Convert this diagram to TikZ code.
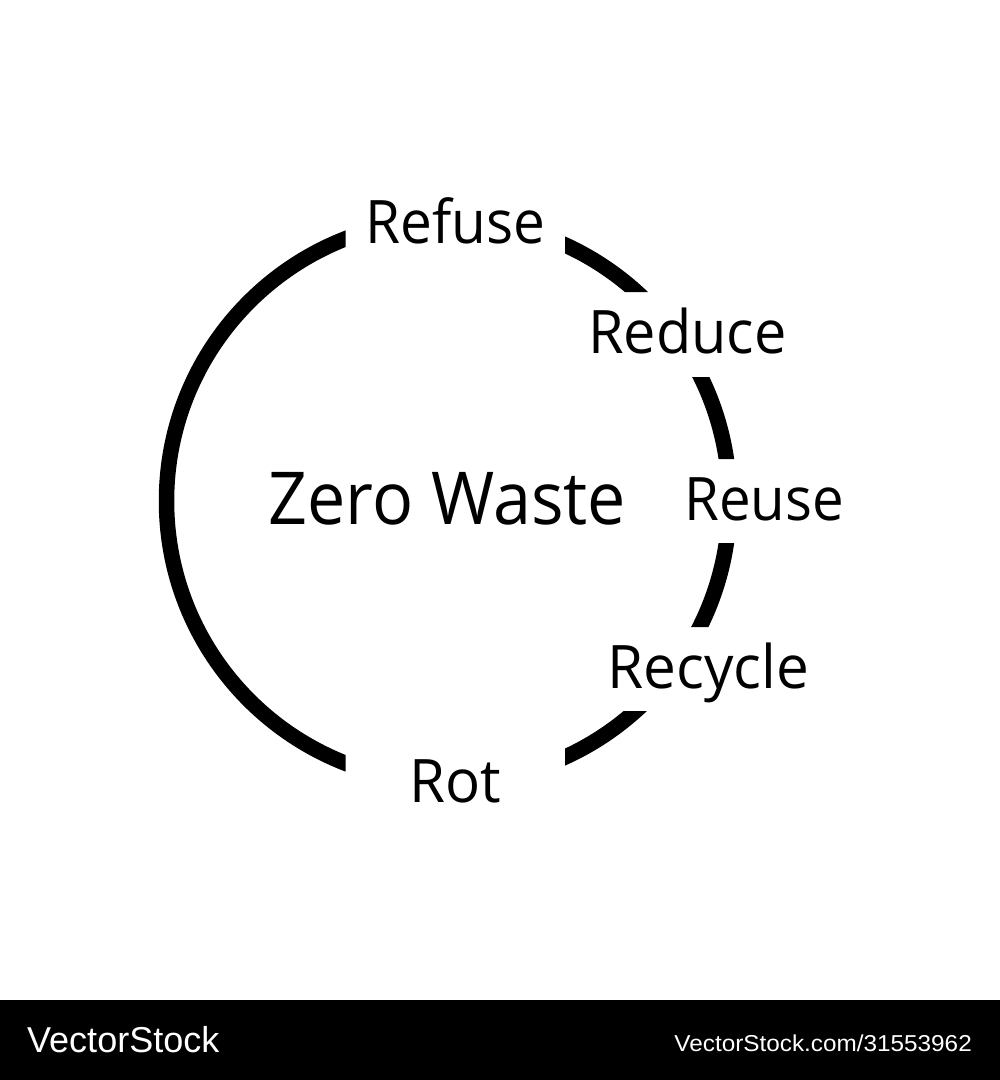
\documentclass[tikz,border=0pt]{standalone}
\usepackage{fontspec}
\setmainfont{Open Sans}
\newfontfamily\wmfont{Liberation Sans}
\tikzset{
  lbl/.style={anchor=base west,inner sep=0pt,font=\fontsize{60}{60}\selectfont,text=black},
  big/.style={anchor=base west,inner sep=0pt,font=\fontsize{73}{73}\selectfont,text=black},
  wm/.style={inner sep=0pt,text=white}
}
\begin{document}
\begin{tikzpicture}[x=1pt,y=-1pt]
\useasboundingbox (0,0) rectangle (1000,1080);
\fill[white] (0,0) rectangle (1000,1080);
\fill[black] (0,1000) rectangle (1000,1080);
\begin{scope}
\clip (0,0) rectangle (345.5,1000)
      (565,0) rectangle (1000,292)
      (500,377) rectangle (1000,459)
      (500,543) rectangle (1000,627)
      (565,711) rectangle (1000,1000);
\draw[line width=15.5pt,black] (448,501) circle[radius=281.5pt];
\end{scope}
\node[lbl,xscale=.945] (refuse) at (365.2,243) {Refuse};
\node[lbl,xscale=.96] (reduce) at (588.2,353) {Reduce};
\node[lbl,xscale=.94] (reuse) at (684.2,520) {Reuse};
\node[lbl,xscale=.975] (recycle) at (607.2,688) {Recycle};
\node[lbl,xscale=.97] (rot) at (409.2,802) {Rot};
\node[big,xscale=.935] (zero) at (268.5,524) {Zero Waste};
\node[wm,anchor=base west,font=\wmfont\fontsize{36}{36}\selectfont] (vs) at (27,1052) {VectorStock};
\node[wm,anchor=base east,xscale=1.057,font=\wmfont\fontsize{23}{23}\selectfont] (url) at (972,1051) {VectorStock.com/31553962};
\end{tikzpicture}
\end{document}
